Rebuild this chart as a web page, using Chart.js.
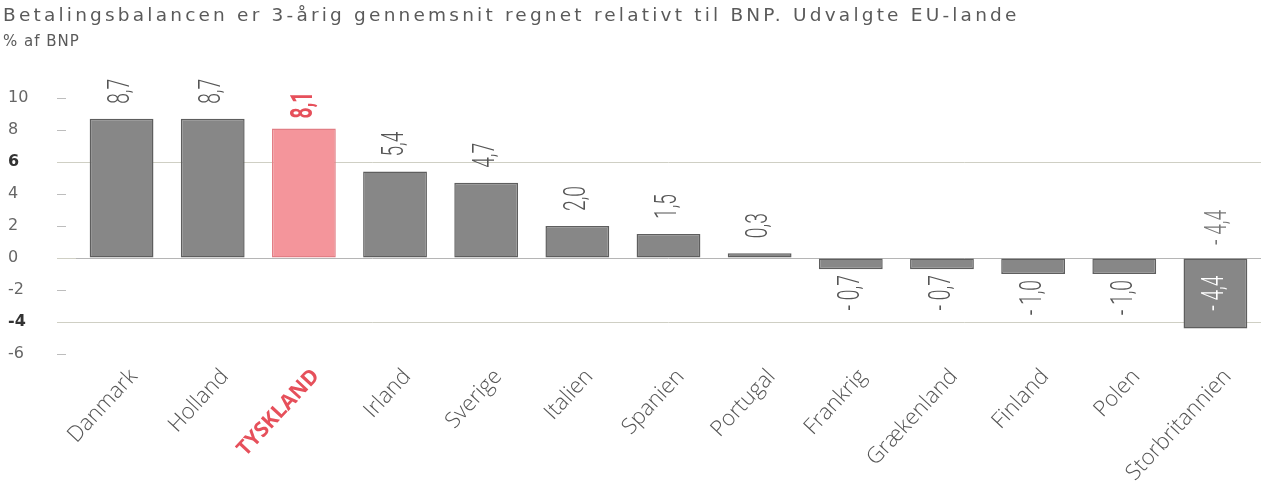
<!DOCTYPE html>
<html>
<head>
<meta charset="utf-8">
<script src="https://cdn.jsdelivr.net/npm/chart.js@4.4.1/dist/chart.umd.min.js"></script>
<style>
  html, body { margin: 0; padding: 0; background: #ffffff; }
  #wrap { position: relative; width: 1277px; height: 488px; }
  #title { position: absolute; left: 3px; top: 4px; font-family: 'DejaVu Sans', sans-serif; font-size: 18.5px; color: #5a5a5a; letter-spacing: 3.2px; white-space: nowrap; }
  #subtitle { position: absolute; left: 3px; top: 32px; font-family: 'DejaVu Sans', sans-serif; font-size: 15px; color: #5a5a5a; letter-spacing: 1px; white-space: nowrap; }
  canvas { position: absolute; left: 0; top: 0; }
</style>
</head>
<body>
<div id="wrap">
  <canvas id="c" width="1277" height="488"></canvas>
  <div id="title">Betalingsbalancen er 3-årig gennemsnit regnet relativt til BNP. Udvalgte EU-lande</div>
  <div id="subtitle">% af BNP</div>
</div>
<script>
const categories = ["Danmark", "Holland", "TYSKLAND", "Irland", "Sverige", "Italien", "Spanien", "Portugal", "Frankrig", "Grækenland", "Finland", "Polen", "Storbritannien"];
const values = [8.7, 8.7, 8.1, 5.4, 4.7, 2.0, 1.5, 0.3, -0.7, -0.7, -1.0, -1.0, -4.4];
const highlight = "TYSKLAND";
const yTicks = [10, 8, 6, 4, 2, 0, -2, -4, -6];
const strongTicks = [6, -4];
const gridValues = [6, 0, -4];

const GREY = "#878787", GREY_BORDER = "#5e5e5e";
const PINK = "#f4959b", PINK_BORDER = "#e27e85";
const RED = "#e6505b";

const fmt = v => (v < 0 ? "- " : "") + Math.abs(v).toFixed(1).replace(".", ",");
const tickVal = ctx => (ctx && ctx.tick) ? ctx.tick.value : null;

const valueLabels = {
  id: "valueLabels",
  afterDatasetsDraw(chart) {
    const ctx = chart.ctx;
    const meta = chart.getDatasetMeta(0);
    const yScale = chart.scales.y;
    const zero = yScale.getPixelForValue(0);
    meta.data.forEach((bar, i) => {
      const v = values[i];
      const hi = categories[i] === highlight;
      ctx.save();
      ctx.font = (hi ? "bold " : "300 ") + "31px Roboto, sans-serif";
      ctx.fillStyle = hi ? RED : "#555";
      ctx.textBaseline = "middle";
      const bottom = yScale.getPixelForValue(v);
      if (v >= 0) {
        ctx.translate(bar.x, bottom - (hi ? 10 : 15));
        ctx.rotate(-Math.PI / 2);
        ctx.scale(0.62, 1);
        ctx.textAlign = "left";
        ctx.fillText(fmt(v), 0, 0);
      } else if (bottom - zero > 40) {
        ctx.save();
        ctx.fillStyle = "#ffffff";
        ctx.translate(bar.x, (zero + bottom) / 2);
        ctx.rotate(-Math.PI / 2);
        ctx.scale(0.62, 1);
        ctx.textAlign = "center";
        ctx.fillText(fmt(v), 0, 0);
        ctx.restore();
        ctx.fillStyle = "#777";
        ctx.translate(bar.x + 3, zero - 13);
        ctx.rotate(-Math.PI / 2);
        ctx.scale(0.62, 1);
        ctx.textAlign = "left";
        ctx.fillText(fmt(v), 0, 0);
      } else {
        ctx.translate(bar.x, bottom + 6);
        ctx.rotate(-Math.PI / 2);
        ctx.scale(0.62, 1);
        ctx.textAlign = "right";
        ctx.fillText(fmt(v), 0, 0);
      }
      ctx.restore();
    });
  }
};

new Chart(document.getElementById("c"), {
  type: "bar",
  data: {
    labels: categories,
    datasets: [{
      data: values,
      backgroundColor: categories.map(c => c === highlight ? PINK : GREY),
      borderColor: categories.map(c => c === highlight ? PINK_BORDER : GREY_BORDER),
      borderWidth: 1.5,
      borderSkipped: false,
      categoryPercentage: 1,
      barPercentage: 0.7
    }]
  },
  options: {
    responsive: false,
    animation: false,
    devicePixelRatio: 1,
    layout: { padding: { left: 8, right: 16, top: 98, bottom: 0 } },
    plugins: { legend: { display: false }, tooltip: { enabled: false }, title: { display: false } },
    scales: {
      x: {
        afterFit: s => { s.height = 134; },
        grid: { display: false },
        border: { display: false },
        ticks: {
          autoSkip: false,
          minRotation: 47,
          maxRotation: 47,
          padding: 2,
          labelOffset: 12,
          color: ctx => (ctx && categories[ctx.index] === highlight) ? RED : "#555",
          font: ctx => (ctx && categories[ctx.index] === highlight)
            ? { family: "'Open Sans', sans-serif", size: 21, weight: "bold" }
            : { family: "'Open Sans', sans-serif", size: 22, weight: "300" }
        }
      },
      y: {
        min: -6,
        max: 10,
        afterBuildTicks: s => { s.ticks = yTicks.map(v => ({ value: v })); },
        afterFit: s => { s.width = 68; },
        border: { display: false },
        grid: {
          drawTicks: true,
          tickLength: 19,
          tickColor: ctx => gridValues.includes(tickVal(ctx)) ? "#cfcfc4" : "#bdbdbd",
          tickBorderDash: ctx => gridValues.includes(tickVal(ctx)) ? [] : [9, 100],
          lineWidth: 1,
          color: ctx => {
            const v = tickVal(ctx);
            if (!gridValues.includes(v)) return "rgba(0,0,0,0)";
            return v === 0 ? "#b5b5b5" : "#cfcfc4";
          }
        },
        ticks: {
          crossAlign: "far",
          padding: 0,
          color: ctx => strongTicks.includes(tickVal(ctx)) ? "#333" : "#666",
          font: ctx => strongTicks.includes(tickVal(ctx))
            ? { family: "'DejaVu Sans', sans-serif", size: 16, weight: "bold" }
            : { family: "'DejaVu Sans', sans-serif", size: 16, weight: "normal" },
          callback: v => String(v)
        }
      }
    }
  },
  plugins: [valueLabels]
});
</script>
</body>
</html>
